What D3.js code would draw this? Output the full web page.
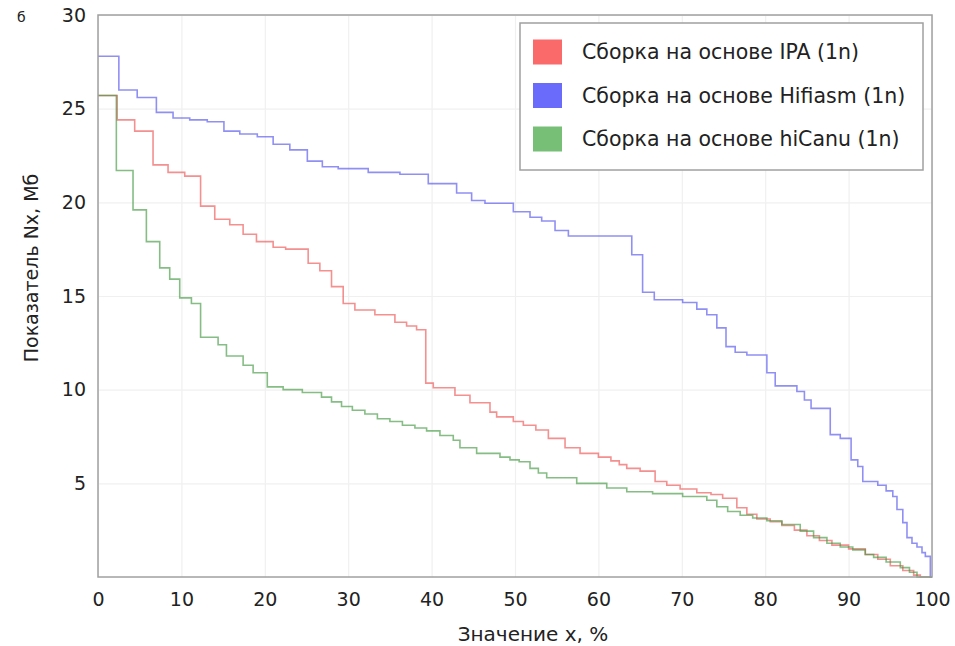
<!DOCTYPE html>
<html>
<head>
<meta charset="utf-8">
<script src="https://cdn.jsdelivr.net/npm/d3@7"></script>
<style>
  body { margin: 0; background: #fff; }
  svg { display: block; font-family: "DejaVu Sans", sans-serif; }
</style>
</head>
<body>
<svg width="955" height="646"></svg>
<script>
"use strict";

// x = значение x (%), y = Nx (Мб); ступенчатые кривые
const ipaSteps = [
  [0, 25.7], [2.3, 24.4], [4.4, 23.8], [6.6, 22.0], [8.4, 21.6], [10.4, 21.4],
  [12.3, 19.8], [14.0, 19.1], [15.8, 18.8], [17.4, 18.3], [19.0, 17.9], [21.0, 17.6],
  [22.5, 17.5], [25.2, 16.75], [26.6, 16.35], [28.0, 15.5], [29.4, 14.6], [30.8, 14.25],
  [33.2, 14.0], [35.6, 13.6], [37.0, 13.4], [38.2, 13.2], [39.3, 10.35], [40.2, 10.1],
  [42.8, 9.7], [44.6, 9.3], [47.0, 8.8], [47.8, 8.55], [49.8, 8.3], [51.0, 8.1],
  [52.5, 7.85], [54.0, 7.4], [56.0, 6.9], [57.8, 6.6], [60.0, 6.4], [61.5, 6.2],
  [62.5, 6.0], [63.4, 5.8], [65.0, 5.65], [66.8, 5.1], [68.2, 4.9], [69.8, 4.7],
  [71.8, 4.5], [73.5, 4.4], [74.9, 4.2], [76.6, 3.7], [77.8, 3.35], [79.0, 3.1],
  [80.6, 2.95], [82.0, 2.75], [83.5, 2.5], [85.0, 2.2], [86.5, 1.95], [88.0, 1.7],
  [90.0, 1.5], [92.0, 1.2], [93.5, 0.95], [95.0, 0.6], [96.5, 0.35], [97.8, 0.1],
  [98.6, 0], [100, 0]
];

const hifiasmSteps = [
  [0, 27.8], [2.5, 26.0], [4.7, 25.6], [7.0, 24.8], [9.0, 24.5], [11.0, 24.4],
  [13.1, 24.3], [15.1, 23.8], [17.0, 23.65], [19.1, 23.5], [21.0, 23.1], [23.0, 22.8],
  [25.1, 22.2], [26.9, 21.9], [28.8, 21.8], [32.4, 21.6], [36.2, 21.5], [39.6, 21.0],
  [43.0, 20.5], [44.8, 20.1], [46.4, 19.95], [49.8, 19.5], [51.8, 19.2], [53.2, 19.0],
  [54.8, 18.5], [56.4, 18.2], [64.0, 17.2], [65.3, 15.2], [66.7, 14.8], [70.1, 14.65],
  [71.8, 14.3], [73.0, 14.0], [74.2, 13.3], [75.3, 12.3], [76.4, 12.0], [77.8, 11.85],
  [80.2, 10.9], [81.2, 10.2], [83.8, 9.9], [84.7, 9.45], [85.5, 9.0], [87.8, 7.6],
  [89.0, 7.4], [90.3, 6.25], [91.1, 5.9], [91.7, 5.1], [93.5, 4.9], [94.5, 4.6],
  [95.3, 4.3], [95.8, 3.6], [96.5, 2.9], [97.0, 2.1], [97.6, 1.8], [98.2, 1.6],
  [98.8, 1.3], [99.2, 1.1], [99.8, 0], [100, 0]
];

const hicanuSteps = [
  [0, 25.7], [2.2, 21.7], [4.2, 19.6], [5.8, 17.9], [7.4, 16.5], [8.6, 15.9],
  [9.8, 14.9], [11.2, 14.6], [12.3, 12.8], [14.4, 12.4], [15.4, 11.8], [17.4, 11.3],
  [18.6, 10.9], [20.3, 10.15], [22.2, 10.0], [24.5, 9.85], [26.8, 9.6], [28.0, 9.35],
  [29.2, 9.1], [30.5, 8.9], [32.0, 8.7], [33.5, 8.45], [35.0, 8.3], [36.5, 8.1],
  [38.0, 7.95], [39.4, 7.8], [41.0, 7.55], [42.6, 7.3], [43.4, 6.9], [45.4, 6.6],
  [48.2, 6.4], [49.4, 6.25], [50.5, 6.15], [51.8, 5.8], [52.8, 5.55], [53.8, 5.3],
  [57.4, 5.0], [61.0, 4.75], [63.4, 4.55], [66.5, 4.45], [70.1, 4.3], [73.0, 4.1],
  [74.2, 3.75], [75.5, 3.5], [77.0, 3.3], [78.5, 3.15], [80.2, 3.0], [82.0, 2.8],
  [84.2, 2.45], [85.8, 2.1], [87.4, 1.8], [89.0, 1.6], [90.5, 1.45], [92.0, 1.2],
  [93.0, 1.05], [94.5, 0.8], [96.2, 0.5], [97.3, 0.25], [98.2, 0], [100, 0]
];

const seriesNames = ["Сборка на основе IPA (1n)", "Сборка на основе Hifiasm (1n)", "Сборка на основе hiCanu (1n)"];
const swatchColors = ["#fb6a6a", "#6a6afb", "#77bf77"];
const lineColors = ["#ee5555", "#5555ee", "#449944"];

const xTicks = [0, 10, 20, 30, 40, 50, 60, 70, 80, 90, 100];
const yTicks = [5, 10, 15, 20, 25, 30];

const xTitle = "Значение x, %";
const yTitle = "Показатель Nx, Мб";
const panelLabel = "б";

const svg = d3.select("svg");
const margin = {left: 98, right: 23, top: 15, bottom: 69};
const W = +svg.attr("width"), H = +svg.attr("height");
const plotW = W - margin.left - margin.right;
const plotH = H - margin.top - margin.bottom;

const x = d3.scaleLinear().domain([0, 100]).range([margin.left, margin.left + plotW]);
const y = d3.scaleLinear().domain([0, 30]).range([margin.top + plotH, margin.top]);

// сетка
svg.append("g")
    .attr("transform", `translate(0, ${margin.top + plotH})`)
    .call(d3.axisBottom(x).tickValues(xTicks).tickSize(-plotH).tickFormat(""))
    .call(g => g.select(".domain").remove())
    .call(g => g.selectAll("line").attr("stroke", "#f0f0f0").attr("stroke-width", 1.2));

svg.append("g")
    .attr("transform", `translate(${margin.left}, 0)`)
    .call(d3.axisLeft(y).tickValues(yTicks).tickSize(-plotW).tickFormat(""))
    .call(g => g.select(".domain").remove())
    .call(g => g.selectAll("line").attr("stroke", "#f0f0f0").attr("stroke-width", 1.2));

// линии
const line = d3.line()
    .x(d => x(d[0]))
    .y(d => y(d[1]))
    .curve(d3.curveStepAfter);

const allSeries = [ipaSteps, hifiasmSteps, hicanuSteps];
svg.append("g")
  .selectAll("path")
  .data(allSeries)
  .join("path")
    .attr("d", line)
    .attr("fill", "none")
    .attr("stroke", (d, i) => lineColors[i])
    .attr("stroke-opacity", 0.65)
    .attr("stroke-width", 1.6);

// рамка
svg.append("rect")
    .attr("x", margin.left)
    .attr("y", margin.top)
    .attr("width", plotW)
    .attr("height", plotH)
    .attr("fill", "none")
    .attr("stroke", "#a0a0a0")
    .attr("stroke-width", 1.5);

// подписи осей
const xAxis = svg.append("g")
    .attr("transform", `translate(0, ${margin.top + plotH})`)
    .call(d3.axisBottom(x).tickValues(xTicks).tickSize(0).tickPadding(16))
    .call(g => g.select(".domain").remove());
xAxis.selectAll("text").attr("font-size", 19).attr("fill", "#222").attr("font-family", "DejaVu Sans, sans-serif");

const yAxis = svg.append("g")
    .attr("transform", `translate(${margin.left}, 0)`)
    .call(d3.axisLeft(y).tickValues(yTicks).tickSize(0).tickPadding(12))
    .call(g => g.select(".domain").remove());
yAxis.selectAll("text").attr("font-size", 19).attr("fill", "#222").attr("font-family", "DejaVu Sans, sans-serif");

svg.append("text")
    .attr("x", 533)
    .attr("y", 641)
    .attr("text-anchor", "middle")
    .attr("font-size", 20)
    .attr("fill", "#222")
    .text(xTitle);

svg.append("text")
    .attr("transform", "translate(38, 268) rotate(-90)")
    .attr("text-anchor", "middle")
    .attr("font-size", 19)
    .attr("fill", "#222")
    .text(yTitle);

svg.append("text")
    .attr("x", 17)
    .attr("y", 22)
    .attr("font-size", 14)
    .attr("fill", "#222")
    .text(panelLabel);

// легенда
const legend = svg.append("g");
legend.append("rect")
    .attr("x", 520).attr("y", 23)
    .attr("width", 403).attr("height", 147)
    .attr("fill", "#fff")
    .attr("stroke", "#a0a0a0")
    .attr("stroke-width", 1.5);

const rowY = d3.scalePoint().domain(seriesNames).range([52, 139]);
const rows = legend.selectAll("g.row")
  .data(seriesNames)
  .join("g")
    .attr("class", "row")
    .attr("transform", d => `translate(533, ${rowY(d)})`);
rows.append("rect")
    .attr("x", 0).attr("y", -12.5)
    .attr("width", 29).attr("height", 25)
    .attr("fill", (d, i) => swatchColors[i]);
rows.append("text")
    .attr("x", 49)
    .attr("dy", "0.35em")
    .attr("font-size", 20.5)
    .attr("fill", "#222")
    .text(d => d);
</script>
</body>
</html>
